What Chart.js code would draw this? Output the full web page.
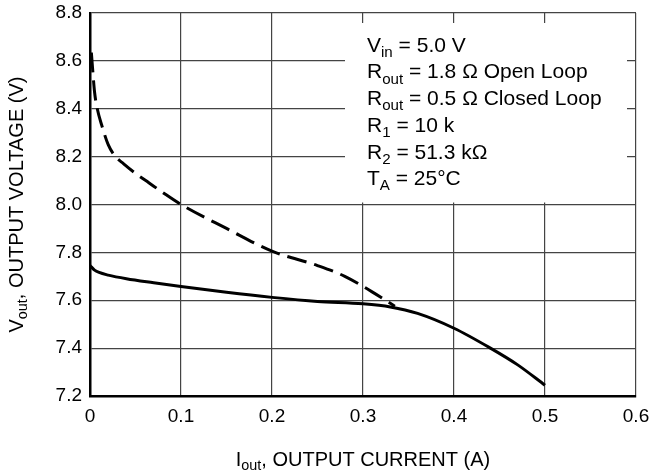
<!DOCTYPE html>
<html>
<head>
<meta charset="utf-8">
<script src="https://cdn.jsdelivr.net/npm/chart.js@4/dist/chart.umd.min.js"></script>
<style>
  html, body { margin: 0; padding: 0; background: #fff; }
  canvas { display: block; }
</style>
</head>
<body>
<canvas id="chart" width="653" height="476"></canvas>
<script>
// Closed loop curve (solid)
const closedX = [0, 0.005, 0.01, 0.02, 0.04, 0.07, 0.1, 0.15, 0.2, 0.25, 0.3, 0.33, 0.36, 0.4, 0.44, 0.47, 0.5];
const closedY = [7.745, 7.726, 7.716, 7.705, 7.69, 7.673, 7.657, 7.633, 7.612, 7.595, 7.585, 7.572, 7.545, 7.483, 7.4, 7.33, 7.245];

// Open loop curve (dashed)
const openX = [0.0015, 0.003, 0.005, 0.008, 0.013, 0.02, 0.028, 0.037, 0.05, 0.065, 0.08, 0.1, 0.15, 0.2, 0.25, 0.28, 0.31, 0.335];
const openY = [8.635, 8.56, 8.47, 8.4, 8.33, 8.25, 8.2, 8.17, 8.13, 8.09, 8.05, 8.0, 7.9, 7.805, 7.745, 7.7, 7.635, 7.575];

const xTicks = [0, 0.1, 0.2, 0.3, 0.4, 0.5, 0.6];
const yTicks = [7.2, 7.4, 7.6, 7.8, 8.0, 8.2, 8.4, 8.6, 8.8];

// Conditions box text: [text, isSubscript]
const noteLines = [
  [['V', false], ['in', true], [' = 5.0 V', false]],
  [['R', false], ['out', true], [' = 1.8 \u03A9 Open Loop', false]],
  [['R', false], ['out', true], [' = 0.5 \u03A9 Closed Loop', false]],
  [['R', false], ['1', true], [' = 10 k', false]],
  [['R', false], ['2', true], [' = 51.3 k\u03A9', false]],
  [['T', false], ['A', true], [' = 25\u00B0C', false]],
];
const xTitle = [['I', false], ['out', true], [', OUTPUT CURRENT (A)', false]];
const yTitle = [['V', false], ['out', true], [', OUTPUT VOLTAGE (V)', false]];

const FONT = '"Liberation Sans", Arial, sans-serif';

const toPoints = (xs, ys) => xs.map((x, i) => ({ x: x, y: ys[i] }));

// text with subscripts
function richWidth(ctx, parts, size) {
  let w = 0;
  parts.forEach(([t, sub]) => {
    ctx.font = (sub ? size * 0.72 : size) + 'px ' + FONT;
    w += ctx.measureText(t).width;
  });
  return w;
}
function drawRich(ctx, parts, x, y, size, align) {
  let cx = x;
  if (align === 'center') cx = x - richWidth(ctx, parts, size) / 2;
  ctx.textBaseline = 'middle';
  ctx.textAlign = 'left';
  parts.forEach(([t, sub]) => {
    ctx.font = (sub ? size * 0.72 : size) + 'px ' + FONT;
    ctx.fillText(t, cx, sub ? y + size * 0.32 : y);
    cx += ctx.measureText(t).width;
  });
}

const decorations = {
  id: 'decorations',
  beforeDatasetsDraw(chart) {
    const ctx = chart.ctx;
    const ys = chart.scales.y;
    // white panel behind the conditions text
    ctx.save();
    ctx.fillStyle = '#fff';
    const left = 345, right = 627, top = 23, bottom = ys.getPixelForValue(8.0) - 2;
    ctx.fillRect(left, top, right - left, bottom - top);
    ctx.fillStyle = '#000';
    noteLines.forEach((line, i) => {
      drawRich(ctx, line, 367, 46 + i * 26.7, 21, 'left');
    });
    ctx.restore();
  },
  afterDraw(chart) {
    const ctx = chart.ctx;
    const area = chart.chartArea;
    ctx.save();
    ctx.fillStyle = '#000';
    drawRich(ctx, xTitle, (area.left + area.right) / 2, 460, 20, 'center');
    ctx.translate(17, (area.top + area.bottom) / 2);
    ctx.rotate(-Math.PI / 2);
    drawRich(ctx, yTitle, 0, 0, 20, 'center');
    ctx.restore();
  }
};

new Chart(document.getElementById('chart').getContext('2d'), {
  type: 'line',
  data: {
    datasets: [
      {
        label: 'Closed Loop',
        data: toPoints(closedX, closedY),
        borderColor: '#000',
        borderWidth: 3,
        pointRadius: 0,
        fill: false,
        cubicInterpolationMode: 'monotone',
      },
      {
        label: 'Open Loop',
        data: toPoints(openX, openY),
        borderColor: '#000',
        borderWidth: 3,
        borderDash: [20, 8],
        pointRadius: 0,
        fill: false,
        cubicInterpolationMode: 'monotone',
      },
    ],
  },
  options: {
    responsive: false,
    animation: false,
    layout: { padding: { top: 13, right: 17, left: 0, bottom: 0 } },
    plugins: { legend: { display: false }, tooltip: { enabled: false } },
    scales: {
      x: {
        type: 'linear',
        min: 0,
        max: 0.6,
        afterFit: (s) => { s.height = 80; s.paddingLeft = 0; s.paddingRight = 0; },
        afterBuildTicks: (s) => { s.ticks = xTicks.map(v => ({ value: v })); },
        grid: { color: '#444', lineWidth: 1.2, drawTicks: false },
        border: { display: true, color: '#000', width: 2.5 },
        ticks: {
          padding: 9,
          color: '#000',
          font: { family: FONT, size: 19 },
          callback: v => (v === 0 ? '0' : v.toFixed(1)),
        },
      },
      y: {
        type: 'linear',
        min: 7.2,
        max: 8.8,
        afterFit: (s) => { s.width = 90; s.paddingTop = 0; s.paddingBottom = 0; },
        afterBuildTicks: (s) => { s.ticks = yTicks.map(v => ({ value: v })); },
        grid: { color: '#444', lineWidth: 1.2, drawTicks: false },
        border: { display: true, color: '#000', width: 2.5 },
        ticks: {
          padding: 8,
          color: '#000',
          font: { family: FONT, size: 19 },
          callback: v => v.toFixed(1),
        },
      },
    },
  },
  plugins: [decorations],
});
</script>
</body>
</html>
